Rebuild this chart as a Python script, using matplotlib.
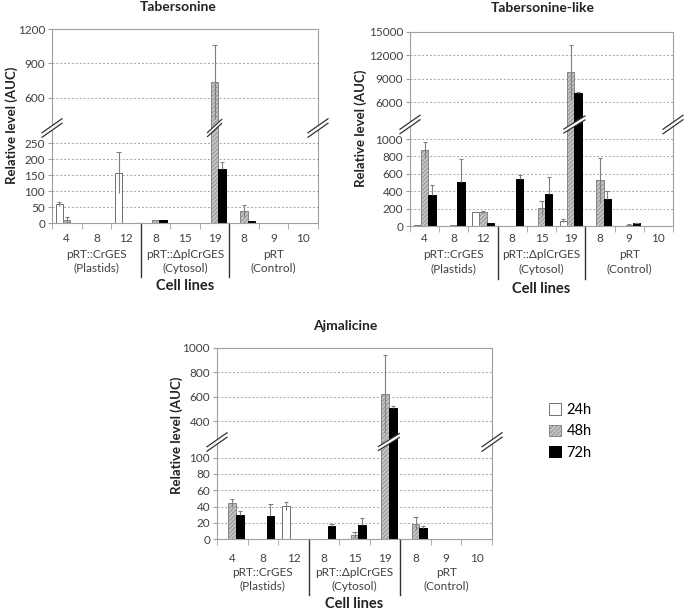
import numpy as np
import matplotlib
matplotlib.use('Agg')
import matplotlib.pyplot as plt
from matplotlib.patches import Patch, Polygon
from matplotlib.lines import Line2D
from matplotlib.transforms import IdentityTransform, blended_transform_factory

plt.rcParams['font.family'] = ['Lato', 'DejaVu Sans']
plt.rcParams['hatch.linewidth'] = 0.5

# ---------------- data ----------------
cell_lines = ['4', '8', '12', '8', '15', '19', '8', '9', '10']
group_names = ['pRT::CrGES', 'pRT::ΔplCrGES', 'pRT']
group_subs = ['(Plastids)', '(Cytosol)', '(Control)']
series_names = ['24h', '48h', '72h']

tab_24 = [60, 0, 158, 0, 0, 0, 0, 0, 0]
tab_24_err = [6, 0, 65, 0, 0, 0, 0, 0, 0]
tab_48 = [10, 0, 0, 8, 0, 740, 37, 0, 0]
tab_48_err = [10, 0, 0, 0, 0, 320, 18, 0, 0]
tab_72 = [0, 0, 0, 10, 0, 170, 5, 0, 0]
tab_72_err = [0, 0, 0, 0, 0, 20, 0, 0, 0]

tabl_24 = [10, 0, 165, 0, 0, 60, 0, 0, 0]
tabl_24_err = [0, 0, 0, 0, 0, 15, 0, 0, 0]
tabl_48 = [870, 10, 165, 5, 210, 9800, 530, 15, 0]
tabl_48_err = [90, 0, 10, 0, 75, 3500, 255, 3, 0]
tabl_72 = [360, 510, 40, 545, 365, 7100, 315, 30, 0]
tabl_72_err = [110, 265, 0, 40, 200, 150, 85, 5, 0]

ajm_24 = [0, 0, 41, 0, 0, 0, 0, 0, 0]
ajm_24_err = [0, 0, 5, 0, 0, 0, 0, 0, 0]
ajm_48 = [44, 0, 0, 0, 5, 620, 19, 0, 0]
ajm_48_err = [5, 0, 0, 0, 4, 320, 8, 0, 0]
ajm_72 = [29, 28, 0, 16, 17, 510, 13, 0, 0]
ajm_72_err = [5, 15, 0, 2, 9, 10, 3, 0, 0]

tab_ticks = [0, 50, 100, 150, 200, 250, 600, 900, 1200]
tabl_ticks = [0, 200, 400, 600, 800, 1000, 6000, 9000, 12000, 15000]
ajm_ticks = [0, 20, 40, 60, 80, 100, 400, 600, 800, 1000]

# ---------------- styling ----------------
W, H = 685, 610
fig = plt.figure(figsize=(W / 100, H / 100), dpi=100)

TXT = '#404040'
GRID = '#a6a6a6'
SPINE = '#a0a0a0'
FS = 8.5
styles = [
    dict(facecolor='white', edgecolor='#6e6e6e', hatch=None),
    dict(facecolor='#c4c4c4', edgecolor='#858585', hatch='////////'),
    dict(facecolor='black', edgecolor='black', hatch=None),
]


def make_scale(vals, pix):
    vals = np.asarray(vals, float)
    pix = np.asarray(pix, float)

    def interp(x, a, b):
        x = np.asarray(x, float)
        y = np.interp(x, a, b)
        y = np.where(x < a[0], b[0] + (x - a[0]) * (b[1] - b[0]) / (a[1] - a[0]), y)
        y = np.where(x > a[-1], b[-1] + (x - a[-1]) * (b[-1] - b[-2]) / (a[-1] - a[-2]), y)
        return y

    return (lambda x: interp(x, vals, pix)), (lambda y: interp(y, pix, vals))


def break_mark(xc, yc, w, h, sep=4.5):
    p1a = (xc - w / 2, yc - h / 2 + sep / 2)
    p1b = (xc + w / 2, yc + h / 2 + sep / 2)
    p2a = (xc - w / 2, yc - h / 2 - sep / 2)
    p2b = (xc + w / 2, yc + h / 2 - sep / 2)
    poly = Polygon([p1a, p1b, p2b, p2a], closed=True, facecolor='white',
                   edgecolor='none', transform=IdentityTransform(), zorder=20)
    fig.add_artist(poly)
    for a, b in [(p1a, p1b), (p2a, p2b)]:
        fig.add_artist(Line2D([a[0], b[0]], [a[1], b[1]], color='#333333', lw=0.9,
                              transform=IdentityTransform(), zorder=21))


panels = [
    dict(title='Tabersonine', title_xy=(178, 7), box=(52, 29, 318, 223),
         vals=[0, 266, 426, 1200], pix=[0, 85, 105, 194], ticks=tab_ticks,
         data=[(tab_24, tab_24_err), (tab_48, tab_48_err), (tab_72, tab_72_err)],
         ylab=(34, 0.505), offs=(15, 31, 45, 63, 54)),
    dict(title='Tabersonine-like', title_xy=(543, 8), box=(410, 32, 673, 226),
         vals=[0, 1092, 3943, 15000], pix=[0, 95, 108, 194], ticks=tabl_ticks,
         data=[(tabl_24, tabl_24_err), (tabl_48, tabl_48_err), (tabl_72, tabl_72_err)],
         ylab=(43, 0.505), offs=(13, 28, 43, 63, 53)),
    dict(title='Ajmalicine', title_xy=(345, 326), box=(217, 348, 492, 539),
         vals=[0, 112, 277, 1000], pix=[0, 91, 103, 191], ticks=ajm_ticks,
         data=[(ajm_24, ajm_24_err), (ajm_48, ajm_48_err), (ajm_72, ajm_72_err)],
         ylab=(34, 0.545), offs=(18, 33, 47, 65, 56)),
]

bw = 0.25
x = np.arange(len(cell_lines))

for p in panels:
    x0, y0, x1, y1 = p['box']
    ax = fig.add_axes([x0 / W, 1 - y1 / H, (x1 - x0) / W, (y1 - y0) / H])
    fwd, inv = make_scale(p['vals'], p['pix'])
    ax.set_yscale('function', functions=(fwd, inv))
    ax.set_ylim(0, p['ticks'][-1])
    ax.set_xlim(-0.5, len(cell_lines) - 0.5)

    for k, (vals, errs) in enumerate(p['data']):
        st = styles[k]
        xs = x + (k - 1) * bw
        ax.bar(xs, vals, width=bw, facecolor=st['facecolor'], edgecolor=st['edgecolor'],
               hatch=st['hatch'], linewidth=0.7, zorder=2)
        vals_a = np.asarray(vals, float)
        errs_a = np.asarray(errs, float)
        m = errs_a > 0
        lo = vals_a[m] - (0 if k == 2 else errs_a[m])
        hi = vals_a[m] + errs_a[m]
        ax.vlines(xs[m], lo, hi, color='#7f7f7f', lw=0.8, zorder=3)
        ax.hlines(hi, xs[m] - 0.07, xs[m] + 0.07, color='#7f7f7f', lw=0.8, zorder=3)

    ax.set_yticks(p['ticks'])
    ax.set_yticklabels([str(t) for t in p['ticks']], fontsize=FS, color=TXT)
    ax.yaxis.grid(True, linestyle=(0, (2, 2)), color=GRID, lw=0.7, zorder=0)
    ax.set_axisbelow(True)
    for s in ax.spines.values():
        s.set_color(SPINE)
        s.set_linewidth(0.8)
    ax.tick_params(axis='y', length=3, color=SPINE, pad=2)
    ax.set_xticks(x)
    ax.set_xticklabels(cell_lines, fontsize=FS, color=TXT)
    ax.tick_params(axis='x', length=0, pad=p['offs'][0] - 8)
    ax.set_xticks(np.arange(-0.5, len(cell_lines)), minor=True)
    ax.tick_params(axis='x', which='minor', length=4, color=SPINE)
    ax.set_ylabel('Relative level (AUC)', fontsize=9.5, fontweight='bold', color='#222222')
    ax.yaxis.set_label_coords(-p['ylab'][0] / (x1 - x0), p['ylab'][1])

    hpx = y1 - y0
    tr = blended_transform_factory(ax.transData, ax.transAxes)
    for g in range(3):
        ax.text(3 * g + 1, -p['offs'][1] / hpx, group_names[g], transform=tr, ha='center',
                va='center', fontsize=FS, color=TXT)
        ax.text(3 * g + 1, -p['offs'][2] / hpx, group_subs[g], transform=tr, ha='center',
                va='center', fontsize=FS, color=TXT)
    for sx in (2.5, 5.5):
        ax.plot([sx, sx], [0, -p['offs'][4] / hpx], transform=tr, color='#333333', lw=1.0,
                clip_on=False)
    ax.text(0.5, -p['offs'][3] / hpx, 'Cell lines', transform=ax.transAxes, ha='center',
            va='center', fontsize=10.5, fontweight='bold', color='#222222')
    fig.text(p['title_xy'][0] / W, 1 - p['title_xy'][1] / H, p['title'], ha='center',
             va='center', fontsize=10, fontweight='bold', color='#222222')

    gap_c = (p['pix'][1] + p['pix'][2]) / 2
    yc_disp = H - y1 + gap_c
    break_mark(x0, yc_disp, 20, 14)
    break_mark(x1, yc_disp, 20, 14)
    crossing = [k for k, (vals, _) in enumerate(p['data']) if max(vals) > p['vals'][2]]
    idx = int(np.argmax(p['data'][1][0]))
    xs_c = [x[idx] + (k - 1) * bw for k in crossing]
    xc_data = np.mean(xs_c)
    xc_disp = ax.transData.transform((xc_data, 1))[0]
    break_mark(xc_disp, yc_disp, 14 + 7 * (len(crossing) - 1), 13, sep=4)

legend_handles = [Patch(facecolor=s['facecolor'], edgecolor=s['edgecolor'], hatch=s['hatch'],
                        linewidth=0.7) for s in styles]
fig.legend(legend_handles, series_names, loc='upper left',
           bbox_to_anchor=(549 / W, 1 - 403 / H), frameon=False, fontsize=10.5,
           handlelength=0.8, handleheight=0.8, handletextpad=0.4, labelspacing=0.5,
           borderpad=0, borderaxespad=0)

fig.savefig('out.png', dpi=100)
